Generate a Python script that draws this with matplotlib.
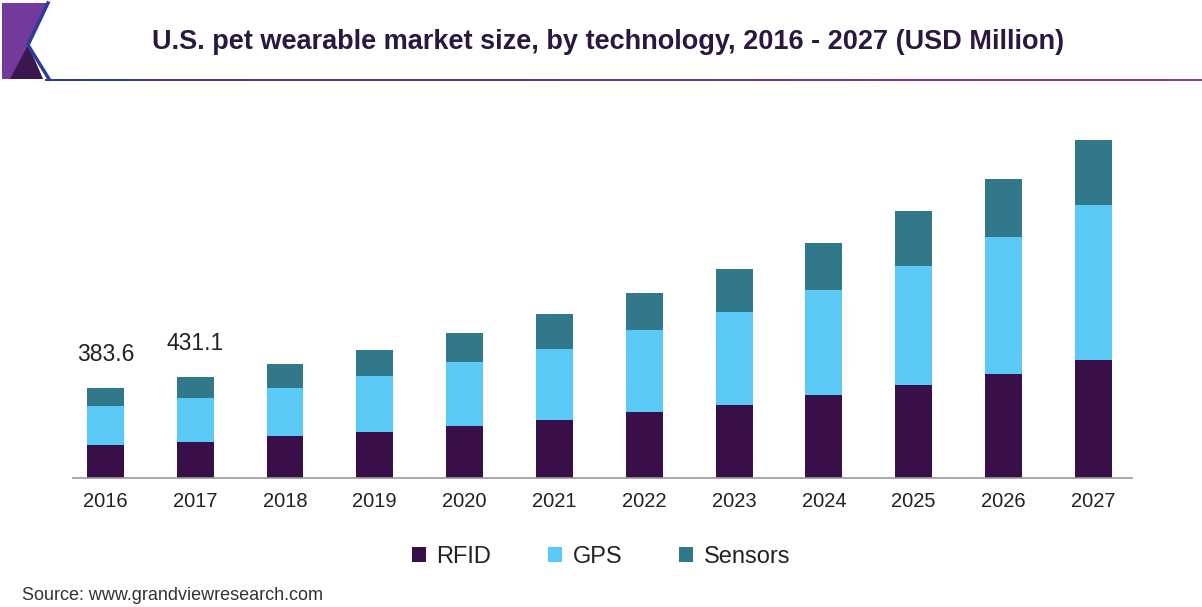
"""U.S. pet wearable market size, by technology, 2016 - 2027 (stacked bars)."""

import matplotlib
matplotlib.use("Agg")
import matplotlib.pyplot as plt
import numpy as np
from matplotlib.patches import Patch, Polygon
from matplotlib.lines import Line2D

plt.rcParams["font.family"] = ["Liberation Sans", "DejaVu Sans"]

# ---------------------------------------------------------------------------
# Data (USD Million)
# ---------------------------------------------------------------------------
years = ["2016", "2017", "2018", "2019", "2020", "2021",
         "2022", "2023", "2024", "2025", "2026", "2027"]
rfid = [139.0, 155.0, 176.8, 193.8, 219.3, 244.8,
        278.8, 311.5, 354.0, 396.5, 442.0, 502.8]
gps = [166.0, 184.5, 208.3, 242.3, 273.7, 306.0,
       351.5, 394.0, 446.0, 507.0, 584.8, 658.8]
sensors = [78.6, 91.6, 100.7, 109.2, 123.3, 146.2,
           158.5, 184.0, 199.8, 232.5, 246.5, 279.0]
labelled = {0: "383.6", 1: "431.1"}

C_RFID = "#380f48"
C_GPS = "#5bc9f5"
C_SENS = "#31788a"
TEXT = "#222222"

W, H = 1202, 607
fig = plt.figure(figsize=(W / 100, H / 100), dpi=100)
fig.patch.set_facecolor("white")

# axes placed by pixel: baseline at y=478, from x=73 to x=1132
ax = fig.add_axes([73 / W, (H - 478) / H, (1132 - 73) / W, (478 - 115) / H])
x = np.arange(len(years))
w = 0.41
kw = dict(width=w, edgecolor="none", linewidth=0, zorder=2)
ax.bar(x, rfid, color=C_RFID, **kw)
ax.bar(x, gps, bottom=rfid, color=C_GPS, **kw)
bot2 = np.array(rfid) + np.array(gps)
ax.bar(x, sensors, bottom=bot2, color=C_SENS, **kw)

totals = bot2 + np.array(sensors)
for i, s in labelled.items():
    ax.text(x[i], totals[i] + 92, s, ha="center", va="bottom",
            fontsize=16.5, color=TEXT)

ax.set_xlim(-0.36, 11.43)
ax.set_ylim(0, 1545)
ax.set_xticks(x)
ax.set_xticklabels(years, fontsize=14.5, color=TEXT)
ax.tick_params(axis="x", length=0, pad=10)
ax.set_yticks([])
for sp in ("top", "right", "left"):
    ax.spines[sp].set_visible(False)
ax.spines["bottom"].set_color("#9a9a9a")
ax.spines["bottom"].set_linewidth(1.2)

# legend
handles = [Patch(facecolor=c, edgecolor="none", label=l)
           for c, l in [(C_RFID, "RFID"), (C_GPS, "GPS"), (C_SENS, "Sensors")]]
leg = fig.legend(handles=handles, loc="center", ncol=3,
                 bbox_to_anchor=(601 / W, 1 - 557 / H), frameon=False,
                 fontsize=17, handlelength=0.6, handleheight=0.6,
                 handletextpad=0.45, columnspacing=2.4)
for t in leg.get_texts():
    t.set_color(TEXT)

# title
fig.text(608 / W, 1 - 42 / H,
         "U.S. pet wearable market size, by technology, 2016 - 2027 (USD Million)",
         ha="center", va="center", fontsize=19.5, fontweight="bold",
         color="#2a1840")

# gradient rule under the title
rule = fig.add_axes([45 / W, 1 - 81.5 / H, (W - 45) / W, 3 / H])
rule.imshow(np.linspace(0, 1, 256)[None, :], aspect="auto",
            cmap=matplotlib.colors.LinearSegmentedColormap.from_list(
                "rule", ["#2b3d9c", "#5a3c9e", "#8e3c9e"]))
rule.axis("off")

# logo at top-left
def px(pts):
    return [(a / W, 1 - b / H) for a, b in pts]

fig.add_artist(Polygon(px([(2, 3), (48, 3), (28, 45), (43, 79), (2, 79)]),
                       closed=True, facecolor="#74399c", edgecolor="none",
                       transform=fig.transFigure))
fig.add_artist(Polygon(px([(10, 79), (28, 45), (43, 79)]), closed=True,
                       facecolor="#3b164f", edgecolor="none",
                       transform=fig.transFigure))
fig.add_artist(Line2D([48 / W, 28 / W, 49 / W],
                      [1 - 3 / H, 1 - 45 / H, 1 - 79 / H],
                      color="#2b3d9c", linewidth=2.5,
                      transform=fig.transFigure))

# source
fig.text(22 / W, 1 - 595 / H, "Source: www.grandviewresearch.com",
         ha="left", va="center", fontsize=13, color="#333333")

fig.savefig("out.png", dpi=100, facecolor="white")
